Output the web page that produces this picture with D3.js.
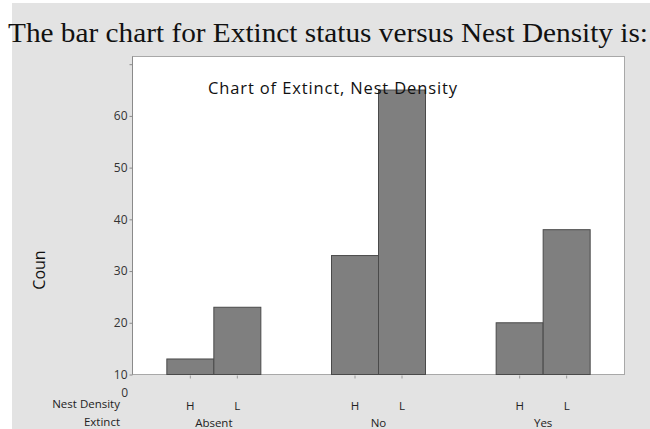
<!DOCTYPE html>
<html>
<head>
<meta charset="utf-8">
<script src="https://cdn.jsdelivr.net/npm/d3@7"></script>
<style>
  html, body { margin: 0; padding: 0; background: #ffffff; }
  svg { display: block; }
  text { font-family: "Open Sans", "Noto Sans", sans-serif; fill: #222; }
</style>
</head>
<body>
<svg id="chart" width="650" height="429"></svg>
<script>
// ---- data ----
const extinctGroups = ["Absent", "No", "Yes"];
const nestDensities = ["H", "L"];
const countsH = [13, 33, 20];
const countsL = [23, 65, 38];
const yTickValues = [10, 20, 30, 40, 50, 60, 70];
const yTickLabels = ["10", "20", "30", "40", "50", "60", ""];
const pageHeading = "The bar chart for Extinct status versus Nest Density is:";
const chartTitle = "Chart of Extinct, Nest Density";
const yAxisTitle = "Coun";
const strayZeroLabel = "0";
const rowLabels = ["Nest Density", "Extinct"];

const rows = [];
extinctGroups.forEach((g, i) => {
  rows.push({ group: g, density: "H", value: countsH[i] });
  rows.push({ group: g, density: "L", value: countsL[i] });
});

// ---- layout ----
const svg = d3.select("#chart");
const W = 650, H = 429;
const plot = { left: 132.5, right: 624.5, top: 56.5, bottom: 374.5 };

// page backgrounds
svg.append("rect").attr("x", 0).attr("y", 0).attr("width", W).attr("height", H).attr("fill", "#ffffff");
svg.append("rect").attr("x", 12).attr("y", 3).attr("width", W - 12).attr("height", H - 3).attr("fill", "#e3e3e3");

// heading (serif)
svg.append("text")
  .attr("x", 8).attr("y", 42)
  .style("font-family", "'Liberation Serif', 'Times New Roman', serif")
  .style("font-size", "27px")
  .style("fill", "#111")
  .attr("textLength", 640)
  .attr("lengthAdjust", "spacingAndGlyphs")
  .text(pageHeading);

// plot area
svg.append("rect")
  .attr("x", plot.left).attr("y", plot.top)
  .attr("width", plot.right - plot.left).attr("height", plot.bottom - plot.top)
  .attr("fill", "#ffffff").attr("stroke", "#a8a8a8").attr("stroke-width", 1);

// scales
const x = d3.scalePoint().domain(extinctGroups).range([plot.left, plot.right]).padding(0.494);
const barW = 47;
const xInner = d3.scaleBand().domain(nestDensities).range([-barW, barW]).padding(0);
const y = d3.scaleLinear().domain([10, 70]).range([plot.bottom, plot.bottom - 60 * 5.172]);

// bars
svg.append("g").selectAll("rect").data(rows).join("rect")
  .attr("x", d => x(d.group) + xInner(d.density))
  .attr("y", d => y(d.value))
  .attr("width", xInner.bandwidth())
  .attr("height", d => y(10) - y(d.value))
  .attr("fill", "#7f7f7f")
  .attr("stroke", "#4a4a4a")
  .attr("stroke-width", 1);

// chart title (drawn over bars, as in the reference)
svg.append("text")
  .attr("x", 208).attr("y", 94)
  .style("font-size", "16.5px")
  .style("fill", "#111")
  .attr("textLength", 249)
  .attr("lengthAdjust", "spacing")
  .text(chartTitle);

// y axis
const yAxis = d3.axisLeft(y)
  .tickValues(yTickValues)
  .tickSize(3)
  .tickPadding(2)
  .tickFormat((d, i) => yTickLabels[i]);
const gy = svg.append("g").attr("transform", `translate(${plot.left},0)`).call(yAxis);
gy.select(".domain").attr("stroke", "#8a8a8a").attr("d", `M0,${plot.top}V${plot.bottom}`);
gy.selectAll(".tick line").attr("stroke", "#8a8a8a");
gy.selectAll(".tick text").style("font-size", "12px").style("fill", "#333")
  .style("font-family", "'Open Sans', sans-serif");

// stray "0" label
svg.append("text")
  .attr("x", 128).attr("y", 392.5).attr("dy", "0.35em")
  .attr("text-anchor", "end")
  .style("font-size", "12px").style("fill", "#333")
  .text(strayZeroLabel);

// x ticks
const xt = svg.append("g");
xt.selectAll("line").data(rows).join("line")
  .attr("x1", d => x(d.group) + xInner(d.density) + xInner.bandwidth() / 2)
  .attr("x2", d => x(d.group) + xInner(d.density) + xInner.bandwidth() / 2)
  .attr("y1", plot.bottom + 1).attr("y2", plot.bottom + 4)
  .attr("stroke", "#9a9a9a");
xt.selectAll("text.dens").data(rows).join("text")
  .attr("class", "dens")
  .attr("x", d => x(d.group) + xInner(d.density) + xInner.bandwidth() / 2)
  .attr("y", 406).attr("dy", "0.35em")
  .attr("text-anchor", "middle")
  .style("font-size", "11.5px")
  .text(d => d.density);
xt.selectAll("text.grp").data(extinctGroups).join("text")
  .attr("class", "grp")
  .attr("x", d => x(d))
  .attr("y", 423).attr("dy", "0.35em")
  .attr("text-anchor", "middle")
  .style("font-size", "11.5px")
  .text(d => d);

// row labels
svg.selectAll("text.rowlab").data(rowLabels).join("text")
  .attr("class", "rowlab")
  .attr("x", 120)
  .attr("y", (d, i) => 404 + i * 17.5).attr("dy", "0.35em")
  .attr("text-anchor", "end")
  .style("font-size", "11.5px")
  .text(d => d);

// y axis title
svg.append("text")
  .attr("transform", "translate(39,270) rotate(-90)")
  .attr("text-anchor", "middle")
  .attr("dy", "0.35em")
  .style("font-size", "16px")
  .style("fill", "#111")
  .text(yAxisTitle);
</script>
</body>
</html>
